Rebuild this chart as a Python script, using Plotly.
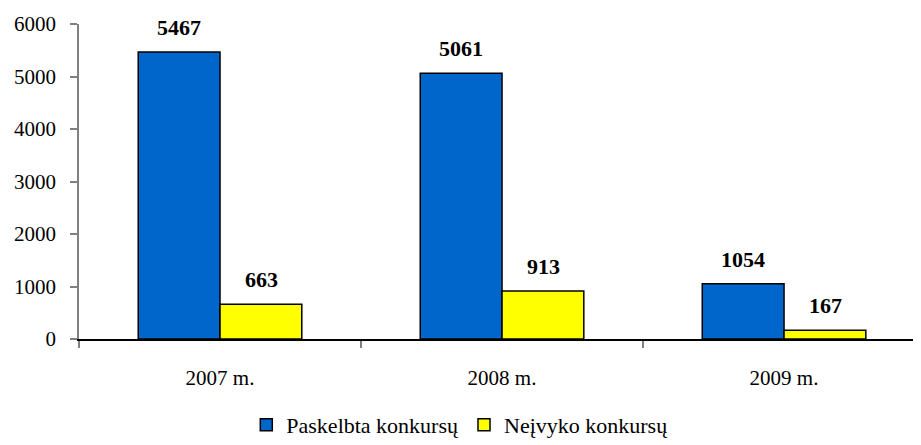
import plotly.graph_objects as go

categories = ["2007 m.", "2008 m.", "2009 m."]
series_names = ["Paskelbta konkursų", "Neįvyko konkursų"]
paskelbta = [5467, 5061, 1054]
neivyko = [663, 913, 167]
y_ticks = [0, 1000, 2000, 3000, 4000, 5000, 6000]

colors = ["#0066CC", "#FFFF00"]
font_family = "Liberation Serif, Times New Roman, serif"

fig = go.Figure()
for name, vals, col in zip(series_names, [paskelbta, neivyko], colors):
    fig.add_trace(go.Bar(
        x=categories, y=vals, name=name,
        marker=dict(color=col, line=dict(color="black", width=1.5)),
    ))

annotations = []
for vals, shift in [(paskelbta, -41), (neivyko, 41)]:
    for c, v in zip(categories, vals):
        annotations.append(dict(
            x=c, y=v, xref="x", yref="y", text=f"<b>{v}</b>",
            showarrow=False, xshift=shift, yshift=10, yanchor="bottom",
            font=dict(family=font_family, size=22, color="black"),
        ))

fig.update_layout(
    width=921, height=445,
    margin=dict(l=71, r=0, t=16, b=114),
    paper_bgcolor="white", plot_bgcolor="white",
    barmode="group", bargap=0.42, bargroupgap=0,
    font=dict(family=font_family, size=21, color="black"),
    showlegend=True,
    legend=dict(orientation="h", x=0.448, xanchor="center",
                y=-0.273, yanchor="middle",
                font=dict(family=font_family, size=22, color="black"),
                itemclick=False),
    annotations=annotations,
)
fig.update_xaxes(
    type="category", range=[-0.5, 2.514],
    showline=True, linecolor="black", linewidth=1.5,
    ticks="outside", tickson="boundaries", ticklen=7, tickcolor="#808080", tickwidth=1.5,
    ticklabelstandoff=19, showgrid=False, zeroline=False,
    tickfont=dict(family=font_family, size=21, color="black"),
)
fig.update_yaxes(
    range=[0, 6000], tickvals=y_ticks,
    showline=True, linecolor="#808080", linewidth=1.5,
    ticks="outside", ticklen=7, tickcolor="#808080", tickwidth=1.5,
    ticklabelstandoff=10, showgrid=False, zeroline=False,
    tickfont=dict(family=font_family, size=21, color="black"),
)

fig.write_html("out.html")
